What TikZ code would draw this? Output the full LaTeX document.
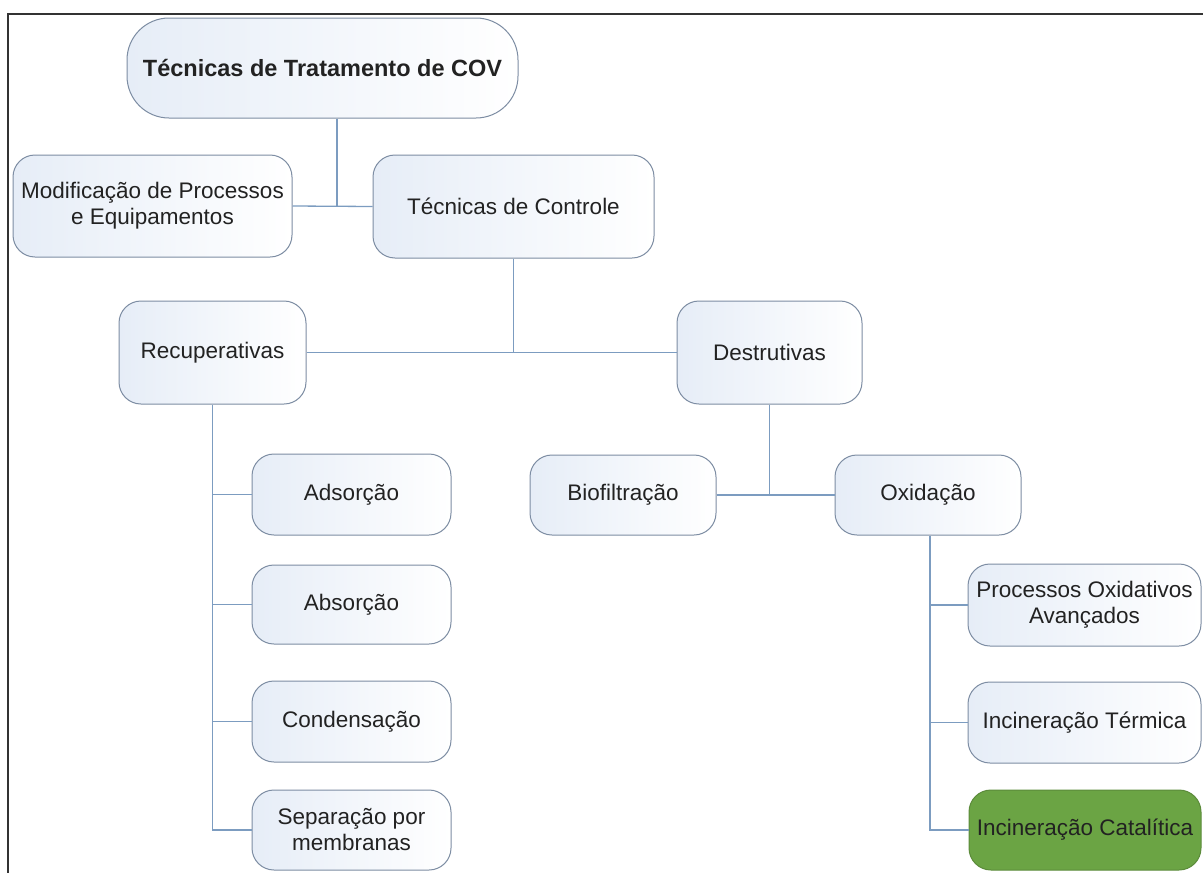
\documentclass[tikz,border=0pt]{standalone}
\usepackage{fontspec}
\setmainfont{Liberation Sans}
\definecolor{boxline}{HTML}{7D8DA3}
\definecolor{boxfill}{HTML}{E6EDF7}
\definecolor{conn}{HTML}{7C9CC0}
\definecolor{txt}{HTML}{222222}
\definecolor{green}{HTML}{6BA444}
\tikzset{
  box/.style={draw=boxline, line width=1pt, rounded corners=22pt, left color=boxfill, right color=white,
    text=txt, align=center, inner sep=2pt, font=\fontsize{22.5}{26}\selectfont},
  link/.style={draw=conn, line width=1.3pt},
}
\begin{document}
\begin{tikzpicture}[x=1pt,y={(0pt,-1pt)}]
\useasboundingbox (0,0) rectangle (1203,873);
\fill[white] (0,0) rectangle (1203,873);
\draw[line width=2.5pt, draw=black!80] (8,14) rectangle (1215,885);

\node[box, rounded corners=42pt, minimum width=391pt, minimum height=100pt, font=\fontsize{23.5}{27}\selectfont\bfseries] (top) at (322.5,68) {Técnicas de Tratamento de COV};
\node[box, minimum width=279pt, minimum height=102pt] (mod) at (152.5,206) {Modificação de Processos\\e Equipamentos};
\node[box, minimum width=281pt, minimum height=103pt] (ctrl) at (513.5,206.5) {Técnicas de Controle};
\node[box, minimum width=187pt, minimum height=103pt] (rec) at (212.5,352.5) {Recuperativas};
\node[box, minimum width=185pt, minimum height=103pt] (des) at (769.5,352.5) {Destrutivas};
\node[box, minimum width=199pt, minimum height=81pt] (ads) at (351.5,494.5) {Adsorção};
\node[box, minimum width=199pt, minimum height=79pt] (abs) at (351.5,604.5) {Absorção};
\node[box, minimum width=199pt, minimum height=81pt] (cond) at (351.5,721.5) {Condensação};
\node[box, minimum width=199pt, minimum height=80pt] (sep) at (351.5,830) {Separação por\\membranas};
\node[box, minimum width=186pt, minimum height=80pt] (bio) at (623,495) {Biofiltração};
\node[box, minimum width=186pt, minimum height=80pt] (oxi) at (928,495) {Oxidação};
\node[box, minimum width=233pt, minimum height=82pt] (poa) at (1084.5,605) {Processos Oxidativos\\Avançados};
\node[box, minimum width=233pt, minimum height=81pt] (term) at (1084.5,722.5) {Incineração Térmica};
\node[box, draw=green!85!black, left color=green, right color=green, minimum width=232pt, minimum height=80pt] (cat) at (1085,830) {Incineração Catalítica};

\coordinate (j1) at (337,206);
\draw[link] (top.south -| j1) -- (j1);
\draw[link] (mod.east) -- (ctrl.west);
\draw[link] (ctrl.south) -- (ctrl.south |- rec.east);
\draw[link] (rec.east) -- (des.west);
\draw[link] (rec.south) -- (rec.south |- sep.west) -- (sep.west);
\draw[link] (rec.south |- ads.west) -- (ads.west);
\draw[link] (rec.south |- abs.west) -- (abs.west);
\draw[link] (rec.south |- cond.west) -- (cond.west);
\draw[link] (des.south) -- (des.south |- bio.east);
\draw[link] (bio.east) -- (oxi.west);
\coordinate (j2) at (930,495);
\draw[link] (oxi.south -| j2) -- (j2 |- cat.west) -- (cat.west);
\draw[link] (j2 |- poa.west) -- (poa.west);
\draw[link] (j2 |- term.west) -- (term.west);
\end{tikzpicture}
\end{document}
